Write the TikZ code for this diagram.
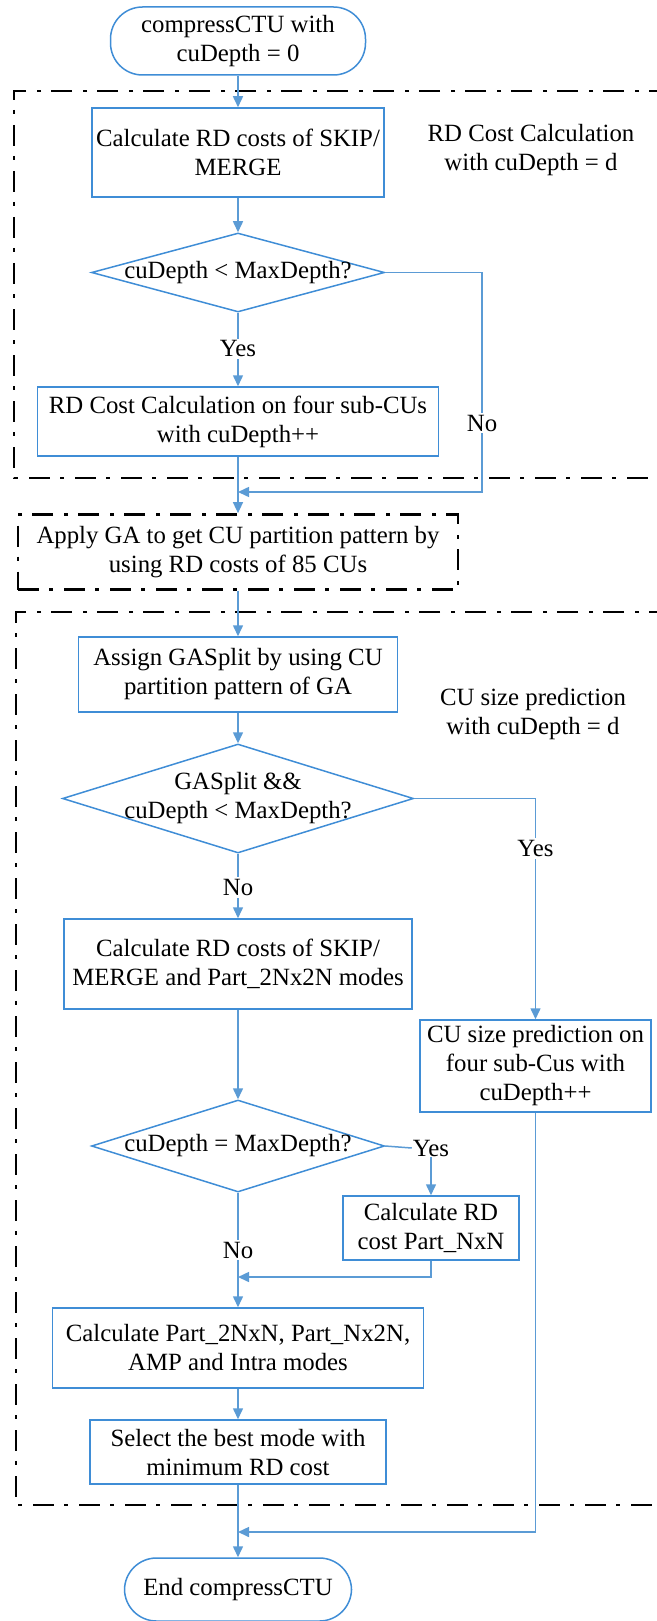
\documentclass[tikz,border=0pt]{standalone}
\usepackage{fontspec}
\setmainfont{Liberation Serif}
\usetikzlibrary{shapes.geometric,arrows.meta}
\definecolor{flowline}{HTML}{5B9BD5}
\definecolor{flowedge}{HTML}{3F8DD6}
\begin{document}
\begin{tikzpicture}[x=1pt,y=-1pt,
  font=\fontsize{24.8}{29}\selectfont,
  procbox/.style={draw=flowedge, line width=1.5pt, rectangle, align=center, inner sep=0pt, fill=white},
  termbox/.style={procbox, rounded corners=32pt},
  decision/.style={draw=flowedge, line width=1.5pt, diamond, inner sep=0pt},
  flowarrow/.style={draw=flowline, line width=1.5pt, -{Triangle[length=11pt,width=10pt]}},
  flowlink/.style={draw=flowline, line width=1.5pt},
  branchlabel/.style={fill=white, inner sep=2pt},
  groupframe/.style={draw=black, line width=2.7pt, dash pattern=on 21pt off 10pt on 4pt off 11pt},
  grouptitle/.style={align=center, inner sep=0pt}]
\useasboundingbox (0,0) rectangle (656,1621);

% dash-dot group frames (open to the right)
\draw[groupframe] (670,91) -- (14,91) -- (14,478) -- (670,478);
\draw[groupframe] (670,612) -- (16,612) -- (16,1505) -- (670,1505);

% nodes
\node[termbox, minimum width=255pt, minimum height=68pt] (start) at (238,41) {compressCTU with\\cuDepth = 0};
\node[procbox, minimum width=292pt, minimum height=89pt] (b1) at (238,152.5) {Calculate RD costs of SKIP/\\MERGE};
\node[decision, minimum width=293pt, minimum height=79pt] (d1) at (238,272.5) {};
\node[align=center, inner sep=0pt] (d1text) at (d1.center) {cuDepth < MaxDepth?};
\node[procbox, minimum width=401pt, minimum height=69pt] (b2) at (238,421.5) {RD Cost Calculation on four sub-CUs\\with cuDepth++};
\node[grouptitle] (t1) at (531,150) {RD Cost Calculation\\with cuDepth = d};

\node[groupframe, rectangle, align=center, inner sep=0pt, fill=white, minimum width=440pt, minimum height=75pt] (ga) at (238,552) {Apply GA to get CU partition pattern by\\using RD costs of 85 CUs};

\node[procbox, minimum width=319pt, minimum height=75pt] (b3) at (238,674.5) {Assign GASplit by using CU\\partition pattern of GA};
\node[grouptitle] (t2) at (533,714) {CU size prediction\\with cuDepth = d};
\node[decision, minimum width=351pt, minimum height=109pt] (d2) at (238,798.5) {};
\node[align=center, inner sep=0pt] (d2text) at (d2.center) {GASplit \&\&\\cuDepth < MaxDepth?};
\node[procbox, minimum width=348pt, minimum height=90pt] (b4) at (238,964) {Calculate RD costs of SKIP/\\MERGE and Part\_2Nx2N modes};
\node[procbox, minimum width=231pt, minimum height=92pt] (b5) at (535.5,1066) {CU size prediction on\\four sub-Cus with\\cuDepth++};
\node[decision, minimum width=293pt, minimum height=92pt] (d3) at (238,1146) {};
\node[align=center, inner sep=0pt] (d3text) at (d3.center) {cuDepth = MaxDepth?};
\node[inner sep=1pt] (yes3) at (431,1148) {Yes};
\node[procbox, minimum width=176pt, minimum height=64pt] (b6) at (431,1228) {Calculate RD\\cost Part\_NxN};
\node[procbox, minimum width=371pt, minimum height=80pt] (b7) at (238,1348) {Calculate Part\_2NxN, Part\_Nx2N,\\AMP and Intra modes};
\node[procbox, minimum width=296pt, minimum height=64pt] (b8) at (238,1452) {Select the best mode with\\minimum RD cost};
\node[termbox, minimum width=227pt, minimum height=63pt] (endt) at (238,1589.5) {End compressCTU};

% junction points on the main axis
\coordinate (noturn) at (482,272.5);
\coordinate (nojoin) at (482,492);
\coordinate (mergeA) at (238,492);
\coordinate (mergeB) at (238,1277);
\coordinate (mergeC) at (238,1532);

% connectors
\draw[flowarrow] (start) -- (b1);
\draw[flowarrow] (b1) -- (d1);
\draw[flowarrow] (d1) -- node[branchlabel, pos=0.49] (yes1) {Yes} (b2);
\draw[flowarrow] (d1.east) -- (noturn) -- node[branchlabel, pos=0.686] (no1) {No} (nojoin) -- (mergeA);
\draw[flowarrow] (b2) -- (ga);
\draw[flowarrow] (ga) -- (b3);
\draw[flowarrow] (b3) -- (d2);
\draw[flowarrow] (d2) -- node[branchlabel, pos=0.52] (no2) {No} (b4);
\draw[flowarrow] (d2.east) -| node[branchlabel, pos=0.613] (yes2) {Yes} (b5.north);
\draw[flowarrow] (b4) -- (d3);
\draw[flowlink] (d3.east) -- (yes3.west);
\draw[flowarrow] (yes3.south) -- (b6.north);
\draw[flowarrow] (d3) -- node[branchlabel, pos=0.5] (no3) {No} (b7);
\draw[flowarrow] (b6.south) |- (mergeB);
\draw[flowarrow] (b7) -- (b8);
\draw[flowarrow] (b8) -- (endt);
\draw[flowarrow] (b5.south) |- (mergeC);
\end{tikzpicture}
\end{document}
